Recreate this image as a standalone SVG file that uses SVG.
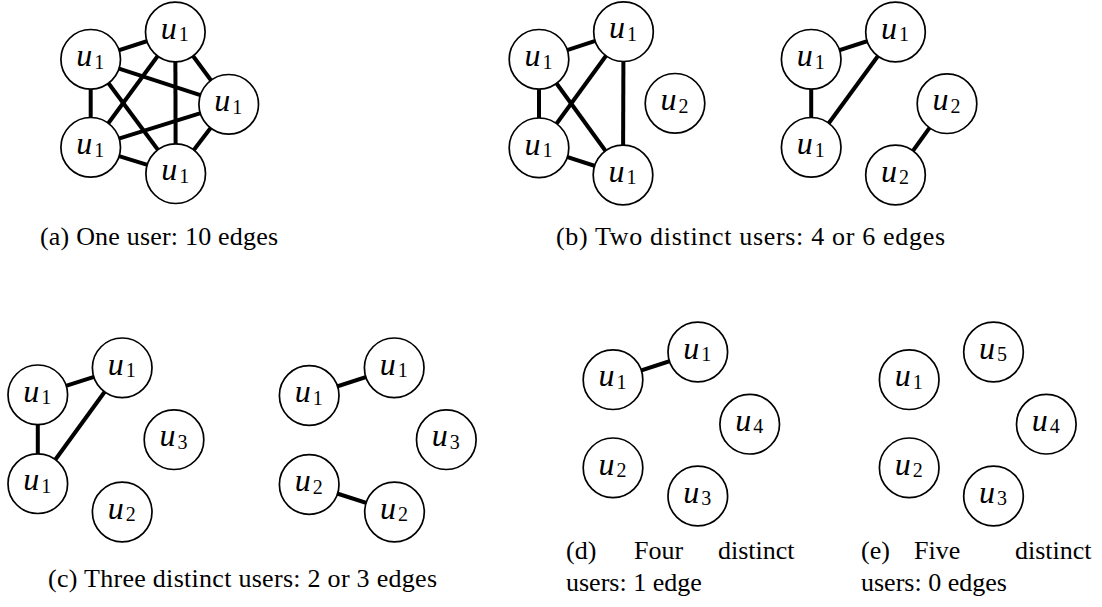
<svg xmlns="http://www.w3.org/2000/svg" width="1102" height="607" viewBox="0 0 1102 607">
<style>
.nd circle{fill:#fff;stroke:#000;stroke-width:1.7}
.lb{font-family:"Liberation Serif",serif;font-size:32px;font-style:italic;text-anchor:middle}
.sb{font-style:normal;font-size:20px}
#edges line{stroke:#000;stroke-width:4}
.cap{font-family:"Liberation Serif",serif;font-size:26px}
</style>
<rect width="1102" height="607" fill="#fff"/>
<g id="edges">
<line x1="90.7" y1="59.3" x2="175.3" y2="32"/>
<line x1="90.7" y1="59.3" x2="228.7" y2="104.3"/>
<line x1="90.7" y1="59.3" x2="90.7" y2="147.3"/>
<line x1="90.7" y1="59.3" x2="175.7" y2="173.7"/>
<line x1="175.3" y1="32" x2="228.7" y2="104.3"/>
<line x1="175.3" y1="32" x2="90.7" y2="147.3"/>
<line x1="175.3" y1="32" x2="175.7" y2="173.7"/>
<line x1="228.7" y1="104.3" x2="90.7" y2="147.3"/>
<line x1="228.7" y1="104.3" x2="175.7" y2="173.7"/>
<line x1="90.7" y1="147.3" x2="175.7" y2="173.7"/>
<line x1="539" y1="59.3" x2="623.5" y2="31.7"/>
<line x1="539" y1="59.3" x2="539" y2="147.8"/>
<line x1="539" y1="59.3" x2="623" y2="175"/>
<line x1="623.5" y1="31.7" x2="539" y2="147.8"/>
<line x1="623.5" y1="31.7" x2="623" y2="175"/>
<line x1="539" y1="147.8" x2="623" y2="175"/>
<line x1="811.2" y1="59.3" x2="895.5" y2="32"/>
<line x1="811.2" y1="59.3" x2="811.2" y2="147.3"/>
<line x1="895.5" y1="32" x2="811.2" y2="147.3"/>
<line x1="947" y1="103.7" x2="895.5" y2="175"/>
<line x1="37.8" y1="394.8" x2="122.2" y2="367.8"/>
<line x1="37.8" y1="394.8" x2="37.8" y2="483.7"/>
<line x1="122.2" y1="367.8" x2="37.8" y2="483.7"/>
<line x1="309.2" y1="395.5" x2="394.2" y2="367.8"/>
<line x1="309.2" y1="484.5" x2="394.5" y2="512"/>
<line x1="613" y1="379.7" x2="697.8" y2="352"/>
</g>
<g id="a-n1" class="nd"><circle cx="90.7" cy="59.3" r="29.8"/><text class="lb" x="90.2" y="66">u<tspan class="sb" dx="2" dy="2.5">1</tspan></text></g>
<g id="a-n2" class="nd"><circle cx="175.3" cy="32" r="29.8"/><text class="lb" x="174.8" y="38.7">u<tspan class="sb" dx="2" dy="2.5">1</tspan></text></g>
<g id="a-n3" class="nd"><circle cx="228.7" cy="104.3" r="29.8"/><text class="lb" x="228.2" y="111">u<tspan class="sb" dx="2" dy="2.5">1</tspan></text></g>
<g id="a-n4" class="nd"><circle cx="90.7" cy="147.3" r="29.8"/><text class="lb" x="90.2" y="154">u<tspan class="sb" dx="2" dy="2.5">1</tspan></text></g>
<g id="a-n5" class="nd"><circle cx="175.7" cy="173.7" r="29.8"/><text class="lb" x="175.2" y="180.4">u<tspan class="sb" dx="2" dy="2.5">1</tspan></text></g>

<g id="b1-n1" class="nd"><circle cx="539" cy="59.3" r="29.8"/><text class="lb" x="538.5" y="66">u<tspan class="sb" dx="2" dy="2.5">1</tspan></text></g>
<g id="b1-n2" class="nd"><circle cx="623.5" cy="31.7" r="29.8"/><text class="lb" x="623" y="38.4">u<tspan class="sb" dx="2" dy="2.5">1</tspan></text></g>
<g id="b1-n3" class="nd"><circle cx="675" cy="103.3" r="29.8"/><text class="lb" x="674.5" y="110">u<tspan class="sb" dx="2" dy="2.5">2</tspan></text></g>
<g id="b1-n4" class="nd"><circle cx="539" cy="147.8" r="29.8"/><text class="lb" x="538.5" y="154.5">u<tspan class="sb" dx="2" dy="2.5">1</tspan></text></g>
<g id="b1-n5" class="nd"><circle cx="623" cy="175" r="29.8"/><text class="lb" x="622.5" y="181.7">u<tspan class="sb" dx="2" dy="2.5">1</tspan></text></g>

<g id="b2-n1" class="nd"><circle cx="811.2" cy="59.3" r="29.8"/><text class="lb" x="810.7" y="66">u<tspan class="sb" dx="2" dy="2.5">1</tspan></text></g>
<g id="b2-n2" class="nd"><circle cx="895.5" cy="32" r="29.8"/><text class="lb" x="895" y="38.7">u<tspan class="sb" dx="2" dy="2.5">1</tspan></text></g>
<g id="b2-n3" class="nd"><circle cx="947" cy="103.7" r="29.8"/><text class="lb" x="946.5" y="110.4">u<tspan class="sb" dx="2" dy="2.5">2</tspan></text></g>
<g id="b2-n4" class="nd"><circle cx="811.2" cy="147.3" r="29.8"/><text class="lb" x="810.7" y="154">u<tspan class="sb" dx="2" dy="2.5">1</tspan></text></g>
<g id="b2-n5" class="nd"><circle cx="895.5" cy="175" r="29.8"/><text class="lb" x="895" y="181.7">u<tspan class="sb" dx="2" dy="2.5">2</tspan></text></g>

<g id="c1-n1" class="nd"><circle cx="37.8" cy="394.8" r="29.8"/><text class="lb" x="37.3" y="401.5">u<tspan class="sb" dx="2" dy="2.5">1</tspan></text></g>
<g id="c1-n2" class="nd"><circle cx="122.2" cy="367.8" r="29.8"/><text class="lb" x="121.7" y="374.5">u<tspan class="sb" dx="2" dy="2.5">1</tspan></text></g>
<g id="c1-n3" class="nd"><circle cx="174" cy="439.7" r="29.8"/><text class="lb" x="173.5" y="446.4">u<tspan class="sb" dx="2" dy="2.5">3</tspan></text></g>
<g id="c1-n4" class="nd"><circle cx="37.8" cy="483.7" r="29.8"/><text class="lb" x="37.3" y="490.4">u<tspan class="sb" dx="2" dy="2.5">1</tspan></text></g>
<g id="c1-n5" class="nd"><circle cx="122.2" cy="512" r="29.8"/><text class="lb" x="121.7" y="518.7">u<tspan class="sb" dx="2" dy="2.5">2</tspan></text></g>

<g id="c2-n1" class="nd"><circle cx="309.2" cy="395.5" r="29.8"/><text class="lb" x="308.7" y="402.2">u<tspan class="sb" dx="2" dy="2.5">1</tspan></text></g>
<g id="c2-n2" class="nd"><circle cx="394.2" cy="367.8" r="29.8"/><text class="lb" x="393.7" y="374.5">u<tspan class="sb" dx="2" dy="2.5">1</tspan></text></g>
<g id="c2-n3" class="nd"><circle cx="446.3" cy="439.7" r="29.8"/><text class="lb" x="445.8" y="446.4">u<tspan class="sb" dx="2" dy="2.5">3</tspan></text></g>
<g id="c2-n4" class="nd"><circle cx="309.2" cy="484.5" r="29.8"/><text class="lb" x="308.7" y="491.2">u<tspan class="sb" dx="2" dy="2.5">2</tspan></text></g>
<g id="c2-n5" class="nd"><circle cx="394.5" cy="512" r="29.8"/><text class="lb" x="394" y="518.7">u<tspan class="sb" dx="2" dy="2.5">2</tspan></text></g>

<g id="d-n1" class="nd"><circle cx="613" cy="379.7" r="29.8"/><text class="lb" x="612.5" y="386.4">u<tspan class="sb" dx="2" dy="2.5">1</tspan></text></g>
<g id="d-n2" class="nd"><circle cx="697.8" cy="352" r="29.8"/><text class="lb" x="697.3" y="358.7">u<tspan class="sb" dx="2" dy="2.5">1</tspan></text></g>
<g id="d-n3" class="nd"><circle cx="749.7" cy="424.2" r="29.8"/><text class="lb" x="749.2" y="430.9">u<tspan class="sb" dx="2" dy="2.5">4</tspan></text></g>
<g id="d-n4" class="nd"><circle cx="613" cy="467.8" r="29.8"/><text class="lb" x="612.5" y="474.5">u<tspan class="sb" dx="2" dy="2.5">2</tspan></text></g>
<g id="d-n5" class="nd"><circle cx="697.8" cy="496" r="29.8"/><text class="lb" x="697.3" y="502.7">u<tspan class="sb" dx="2" dy="2.5">3</tspan></text></g>

<g id="e-n1" class="nd"><circle cx="909.2" cy="379.7" r="29.8"/><text class="lb" x="908.7" y="386.4">u<tspan class="sb" dx="2" dy="2.5">1</tspan></text></g>
<g id="e-n2" class="nd"><circle cx="993.5" cy="352" r="29.8"/><text class="lb" x="993" y="358.7">u<tspan class="sb" dx="2" dy="2.5">5</tspan></text></g>
<g id="e-n3" class="nd"><circle cx="1046.3" cy="424.2" r="29.8"/><text class="lb" x="1045.8" y="430.9">u<tspan class="sb" dx="2" dy="2.5">4</tspan></text></g>
<g id="e-n4" class="nd"><circle cx="909.2" cy="467.8" r="29.8"/><text class="lb" x="908.7" y="474.5">u<tspan class="sb" dx="2" dy="2.5">2</tspan></text></g>
<g id="e-n5" class="nd"><circle cx="993.5" cy="496" r="29.8"/><text class="lb" x="993" y="502.7">u<tspan class="sb" dx="2" dy="2.5">3</tspan></text></g>

<g id="captions" class="cap">
<text x="40" y="245" textLength="238">(a) One user: 10 edges</text>
<text x="556" y="245" textLength="389">(b) Two distinct users: 4 or 6 edges</text>
<text x="48" y="587" textLength="389">(c) Three distinct users: 2 or 3 edges</text>
<text x="566" y="559">(d)</text>
<text x="634" y="559">Four</text>
<text x="718" y="559">distinct</text>
<text x="566" y="591">users: 1 edge</text>
<text x="861" y="559">(e)</text>
<text x="914" y="559">Five</text>
<text x="1015" y="559">distinct</text>
<text x="861" y="591">users: 0 edges</text>
</g>
</svg>
